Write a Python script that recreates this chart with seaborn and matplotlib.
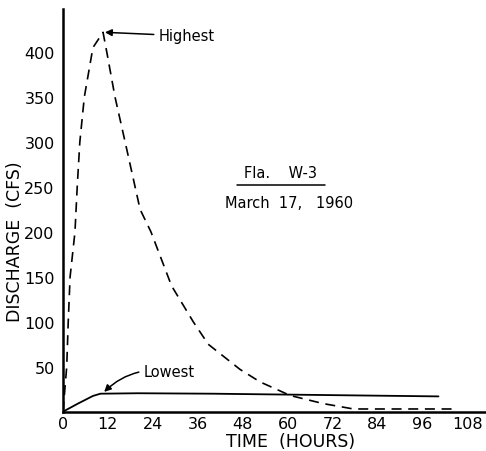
import matplotlib
matplotlib.use("Agg")
import matplotlib.pyplot as plt
import seaborn as sns
import pandas as pd

# Highest discharge hydrograph (dashed)
high_t = [0, 1.0, 1.4, 1.9, 3.2, 3.8, 4.5, 5.7, 8.0, 10.7, 11.7, 13.9, 16.6, 20.6, 23.5, 29.0, 34.8, 38.8, 47.3, 52.7, 60.7, 69.5, 77.6, 84, 96, 104]
high_q = [0, 50, 100, 150, 200, 250, 300, 350, 405, 422, 400, 350, 300, 225, 200, 140, 100, 75, 47, 33, 18, 9, 3, 3, 3, 3]

# Lowest discharge hydrograph (solid)
low_t = [0, 4, 8, 10, 20, 40, 60, 80, 100.3]
low_q = [0, 9, 17.5, 20, 20.5, 20, 19, 18, 17]

xticks = [0, 12, 24, 36, 48, 60, 72, 84, 96, 108]
yticks = [50, 100, 150, 200, 250, 300, 350, 400]

df_high = pd.DataFrame({"t": high_t, "q": high_q})
df_low = pd.DataFrame({"t": low_t, "q": low_q})

sns.set_style("white")
plt.rcParams['font.family'] = ['DejaVu Sans']
plt.rcParams['text.color'] = 'black'
plt.rcParams['axes.labelcolor'] = 'black'
plt.rcParams['xtick.color'] = 'black'
plt.rcParams['ytick.color'] = 'black'

fig = plt.figure(figsize=(4.86, 4.52), dpi=100)
ax = fig.add_axes([0.1296, 0.087, 0.8704, 0.891])

sns.lineplot(data=df_high, x="t", y="q", ax=ax, color="black", lw=1.2,
             linestyle=(0, (6, 4)), sort=False)
sns.lineplot(data=df_low, x="t", y="q", ax=ax, color="black", lw=1.3, sort=False)

ax.set_xlim(0, 113)
ax.set_ylim(0, 448)
ax.set_xticks(xticks)
ax.set_xticklabels([str(v) for v in xticks], fontsize=11.5)
ax.set_yticks(yticks)
ax.set_yticklabels([str(v) for v in yticks], fontsize=11.5)
ax.tick_params(axis="x", direction="in", length=5, width=1.2, pad=3)
ax.tick_params(axis="y", direction="out", length=4, width=1.2, pad=2)
for s in ["top", "right"]:
    ax.spines[s].set_visible(False)
for s in ["left", "bottom"]:
    ax.spines[s].set_linewidth(1.8)
    ax.spines[s].set_color("black")

ax.set_xlabel("TIME  (HOURS)", fontsize=12.5, va="center")
ax.set_ylabel("DISCHARGE  (CFS)", fontsize=12.5, va="center")
ax.xaxis.set_label_coords(0.539, -0.073)
ax.yaxis.set_label_coords(-0.113, 0.424)

ax.annotate("Highest", xy=(11.2, 422), xytext=(25.5, 418), fontsize=10.5,
            va="center", ha="left",
            arrowprops=dict(arrowstyle="-|>", color="black", lw=1.1,
                            shrinkA=1, shrinkB=0, mutation_scale=10))
ax.annotate("Lowest", xy=(11, 22), xytext=(21.5, 45), fontsize=10.5,
            va="center", ha="left",
            arrowprops=dict(arrowstyle="-|>", color="black", lw=1.1,
                            shrinkA=1, shrinkB=0, mutation_scale=10,
                            connectionstyle="arc3,rad=0.25"))

ax.text(58, 257.5, "Fla.    W-3", fontsize=10.5, ha="center", va="bottom")
ax.plot([46.5, 70], [252, 252], color="black", lw=1.1)
ax.text(60.5, 233, "March  17,   1960", fontsize=10.5, ha="center", va="center")

fig.savefig("out.png", dpi=100)
